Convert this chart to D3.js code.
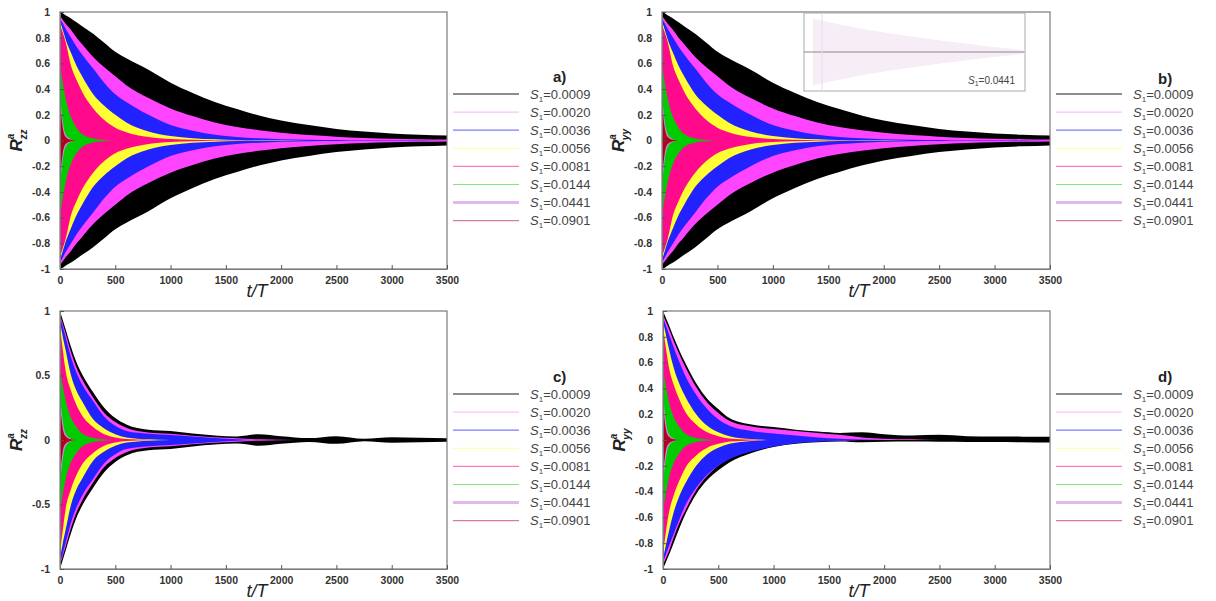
<!DOCTYPE html>
<html><head><meta charset="utf-8">
<script src="https://cdn.jsdelivr.net/npm/d3@7"></script>
<style>
body{margin:0;background:#fff;}
text{font-family:"Liberation Sans",Arial,sans-serif;}
</style>
</head><body>
<svg id="chart" width="1216" height="601"></svg>
<script>
// ---------- data ----------
const tGrid = [0,25,50,100,150,200,300,400,500,600,800,1000,1200,1400,1600,1800,2000,2250,2500,2750,3000,3250,3500];
const seriesS = ["0.0009","0.0020","0.0036","0.0056","0.0081","0.0144","0.0441","0.0901"];
const xTicks = [0,500,1000,1500,2000,2500,3000,3500];
const yTicksFine = [-1,-0.8,-0.6,-0.4,-0.2,0,0.2,0.4,0.6,0.8,1];
const yTicksCoarse = [-1,-0.5,0,0.5,1];

// panels a) and b): symmetric envelope amplitudes (band is +/- amp)
const ampAB = [
  [1.00,0.99,0.975,0.95,0.92,0.89,0.83,0.76,0.69,0.64,0.55,0.45,0.37,0.30,0.245,0.195,0.155,0.12,0.09,0.07,0.055,0.045,0.038],
  [0.97,0.94,0.91,0.86,0.80,0.75,0.65,0.57,0.50,0.43,0.33,0.25,0.19,0.14,0.105,0.08,0.06,0.042,0.03,0.02,0.014,0.01,0.007],
  [0.95,0.91,0.87,0.80,0.73,0.67,0.56,0.45,0.36,0.30,0.20,0.12,0.075,0.045,0.028,0.017,0.01,0.006,0.004,0.002,0.001,0.001,0],
  [0.93,0.86,0.79,0.68,0.58,0.50,0.36,0.27,0.20,0.14,0.07,0.035,0.018,0.009,0.004,0.002,0.001,0,0,0,0,0,0],
  [0.90,0.84,0.77,0.58,0.47,0.38,0.25,0.16,0.10,0.065,0.027,0.011,0.005,0.002,0.001,0,0,0,0,0,0,0,0],
  [0.60,0.45,0.33,0.18,0.10,0.05,0.015,0.004,0,0,0,0,0,0,0,0,0,0,0,0,0,0,0],
  [0.35,0.15,0.05,0.01,0,0,0,0,0,0,0,0,0,0,0,0,0,0,0,0,0,0,0],
  [0.30,0.10,0.03,0.005,0,0,0,0,0,0,0,0,0,0,0,0,0,0,0,0,0,0,0]
];
// panel c): symmetric envelope amplitudes
const ampC = [
  [1.00,0.93,0.86,0.72,0.60,0.51,0.37,0.25,0.17,0.12,0.08,0.07,0.05,0.035,0.028,0.045,0.03,0.015,0.03,0.01,0.022,0.018,0.014],
  [0.97,0.90,0.83,0.68,0.56,0.47,0.33,0.21,0.14,0.095,0.058,0.048,0.033,0.022,0.013,0.005,0.002,0,0,0,0,0,0],
  [0.95,0.88,0.80,0.64,0.52,0.43,0.30,0.18,0.11,0.07,0.048,0.038,0.027,0.016,0.006,0,0,0,0,0,0,0,0],
  [0.92,0.80,0.70,0.50,0.38,0.30,0.16,0.09,0.045,0.02,0.005,0,0,0,0,0,0,0,0,0,0,0,0],
  [0.88,0.70,0.54,0.38,0.27,0.19,0.10,0.045,0.02,0.008,0.002,0,0,0,0,0,0,0,0,0,0,0,0],
  [0.55,0.42,0.31,0.17,0.10,0.05,0.015,0.004,0,0,0,0,0,0,0,0,0,0,0,0,0,0,0],
  [0.35,0.15,0.05,0.01,0,0,0,0,0,0,0,0,0,0,0,0,0,0,0,0,0,0,0],
  [0.28,0.09,0.03,0.005,0,0,0,0,0,0,0,0,0,0,0,0,0,0,0,0,0,0,0]
];
// panel d): upper and lower envelopes
const upperD = [
  [1.00,0.95,0.90,0.79,0.69,0.60,0.44,0.32,0.24,0.17,0.12,0.10,0.08,0.065,0.055,0.06,0.045,0.035,0.04,0.03,0.028,0.026,0.025],
  [0.97,0.92,0.87,0.76,0.66,0.57,0.41,0.29,0.21,0.15,0.105,0.085,0.07,0.055,0.04,0.02,0.01,0.005,0,0,0,0,0],
  [0.95,0.89,0.83,0.71,0.60,0.50,0.35,0.24,0.16,0.11,0.07,0.05,0.035,0.02,0.01,0.004,0,0,0,0,0,0,0],
  [0.92,0.82,0.72,0.55,0.43,0.34,0.20,0.11,0.06,0.03,0.008,0,0,0,0,0,0,0,0,0,0,0,0],
  [0.88,0.72,0.58,0.42,0.31,0.22,0.12,0.06,0.03,0.012,0.003,0,0,0,0,0,0,0,0,0,0,0,0],
  [0.55,0.42,0.31,0.17,0.10,0.05,0.015,0.004,0,0,0,0,0,0,0,0,0,0,0,0,0,0,0],
  [0.35,0.15,0.05,0.01,0,0,0,0,0,0,0,0,0,0,0,0,0,0,0,0,0,0,0],
  [0.28,0.09,0.03,0.005,0,0,0,0,0,0,0,0,0,0,0,0,0,0,0,0,0,0,0]
];
const lowerD = [
  [-1.00,-0.95,-0.90,-0.79,-0.68,-0.58,-0.42,-0.31,-0.235,-0.175,-0.10,-0.055,-0.03,-0.018,-0.012,-0.018,-0.014,-0.012,-0.014,-0.015,-0.016,-0.018,-0.02],
  [-0.97,-0.92,-0.87,-0.75,-0.64,-0.55,-0.39,-0.28,-0.20,-0.145,-0.075,-0.04,-0.02,-0.01,-0.005,0,0,0,0,0,0,0,0],
  [-0.95,-0.89,-0.83,-0.72,-0.61,-0.51,-0.37,-0.27,-0.20,-0.15,-0.09,-0.05,-0.025,-0.012,-0.006,0,0,0,0,0,0,0,0],
  [-0.92,-0.82,-0.72,-0.55,-0.43,-0.34,-0.20,-0.11,-0.06,-0.03,-0.008,0,0,0,0,0,0,0,0,0,0,0,0],
  [-0.88,-0.72,-0.58,-0.42,-0.31,-0.22,-0.12,-0.06,-0.03,-0.012,-0.003,0,0,0,0,0,0,0,0,0,0,0,0],
  [-0.55,-0.42,-0.31,-0.17,-0.10,-0.05,-0.015,-0.004,0,0,0,0,0,0,0,0,0,0,0,0,0,0,0],
  [-0.35,-0.15,-0.05,-0.01,0,0,0,0,0,0,0,0,0,0,0,0,0,0,0,0,0,0,0],
  [-0.28,-0.09,-0.03,-0.005,0,0,0,0,0,0,0,0,0,0,0,0,0,0,0,0,0,0,0]
];
// inset of panel b): S1=0.0441 envelope
const insetT = [0,10,20,30,40,50,60,70,80,90,100];
const insetAmp = [0.9,0.78,0.66,0.56,0.47,0.39,0.31,0.24,0.17,0.11,0.05];

// ---------- styles ----------
const fillColors = ["#000000","#ff44ff","#2222ff","#ffff33","#ff0a8c","#00cc00","#cc88dd","#b0001e"];
const legendOpacity = [0.6,0.35,0.6,0.4,0.55,0.5,0.6,0.5];
const legendWidth = [1.3,1.2,1.2,1.2,1.2,1.2,3,1.2];

const svg = d3.select("#chart");
const neg = a => a.map(v => -v);

function drawPanel(p) {
  const x = d3.scaleLinear().domain([0,3500]).range([p.left,p.right]);
  const y = d3.scaleLinear().domain([-1,1]).range([p.bottom,p.top]);
  const g = svg.append("g");

  const area = d3.area()
    .x(d => x(d.t)).y0(d => y(d.lo)).y1(d => y(d.hi))
    .curve(d3.curveMonotoneX);

  p.upper.forEach((row,i) => {
    const pts = tGrid.map((t,k) => ({t, hi: row[k], lo: p.lower[i][k]}));
    g.append("path").attr("d", area(pts)).attr("fill", fillColors[i]).attr("stroke","none");
  });

  // frame
  g.append("rect").attr("x",p.left).attr("y",p.top)
    .attr("width",p.right-p.left).attr("height",p.bottom-p.top)
    .attr("fill","none").attr("stroke","#7a7a7a").attr("stroke-width",1.2);

  // axes
  const ax = g.append("g").attr("transform",`translate(0,${p.bottom})`)
    .call(d3.axisBottom(x).tickValues(xTicks).tickFormat(d=>String(d))
      .tickSizeInner(-4).tickSizeOuter(0).tickPadding(8));
  const ay = g.append("g").attr("transform",`translate(${p.left},0)`)
    .call(d3.axisLeft(y).tickValues(p.yTicks).tickFormat(d=>String(d))
      .tickSizeInner(-4).tickSizeOuter(0).tickPadding(10));
  [ax,ay].forEach(a => {
    a.select(".domain").attr("stroke","#7a7a7a");
    a.selectAll(".tick line").attr("stroke","#555");
    a.selectAll(".tick text").attr("font-size",10.5).attr("font-weight","bold")
      .attr("fill","#333").attr("font-family","Liberation Sans, Arial, sans-serif");
  });

  // x label
  g.append("text").attr("x",p.tLabelX).attr("y",p.bottom+28)
    .attr("text-anchor","middle").attr("font-size",18).attr("font-style","italic")
    .attr("fill","#222").text("t/T");

  // y label
  const yl = g.append("text").attr("transform",`translate(${p.left-38},${(p.top+p.bottom)/2}) rotate(-90)`)
    .attr("text-anchor","middle").attr("font-size",17).attr("font-style","italic")
    .attr("font-weight","bold").attr("fill","#222");
  yl.append("tspan").text("R");
  yl.append("tspan").attr("font-size",10).attr("dy",-8).text("a");
  yl.append("tspan").attr("font-size",10).attr("dx",-6).attr("dy",13).text(p.sub);

  // panel label
  g.append("text").attr("x",p.labX).attr("y",p.labY).attr("font-size",15)
    .attr("font-weight","bold").attr("fill","#222").text(p.label);

  // legend
  seriesS.forEach((s,i) => {
    const ly = p.legY + i*18.1;
    g.append("line").attr("x1",p.legX).attr("x2",p.legX+66).attr("y1",ly).attr("y2",ly)
      .attr("stroke",fillColors[i]).attr("stroke-opacity",legendOpacity[i])
      .attr("stroke-width",legendWidth[i]);
    const tx = g.append("text").attr("x",p.legX+77).attr("y",ly+4.5)
      .attr("font-size",13).attr("fill","#444");
    tx.append("tspan").attr("font-style","italic").text("S");
    tx.append("tspan").attr("font-size",8).attr("dy",3).text("1");
    tx.append("tspan").attr("dy",-3).text("=" + s);
  });
  return {x,y,g};
}

const panels = [
  {left:60,right:447,top:12,bottom:269,upper:ampAB,lower:ampAB.map(neg),yTicks:yTicksFine,sub:"zz",label:"a)",labX:553,labY:82,legX:453,legY:94,tLabelX:257},
  {left:662,right:1050,top:12,bottom:269,upper:ampAB,lower:ampAB.map(neg),yTicks:yTicksFine,sub:"yy",label:"b)",labX:1158,labY:84,legX:1056,legY:94,tLabelX:859},
  {left:60,right:447,top:311,bottom:569,upper:ampC,lower:ampC.map(neg),yTicks:yTicksCoarse,sub:"zz",label:"c)",labX:553,labY:382,legX:453,legY:394,tLabelX:257},
  {left:663,right:1050,top:311,bottom:569,upper:upperD,lower:lowerD,yTicks:yTicksFine,sub:"yy",label:"d)",labX:1158,labY:382,legX:1056,legY:394,tLabelX:859}
];
panels.forEach(drawPanel);

// inset in panel b)
(function(){
  const L=804,R=1025,T=13,B=91;
  const xi = d3.scaleLinear().domain([0,100]).range([813,R]);
  const yi = d3.scaleLinear().domain([-1,1]).range([B-2,T+2]);
  const g = svg.append("g");
  g.append("rect").attr("x",L).attr("y",T).attr("width",R-L).attr("height",B-T)
    .attr("fill","#fff").attr("stroke","#aaa").attr("stroke-width",1);
  const area = d3.area().x((d,i)=>xi(insetT[i])).y0(d=>yi(-d)).y1(d=>yi(d)).curve(d3.curveMonotoneX);
  g.append("path").attr("d",area(insetAmp)).attr("fill","#f6edf6");
  g.append("line").attr("x1",L).attr("x2",R).attr("y1",yi(0)).attr("y2",yi(0)).attr("stroke","#888").attr("stroke-width",1);
  g.append("line").attr("x1",822).attr("x2",822).attr("y1",T).attr("y2",B).attr("stroke","#ecd8ec").attr("stroke-width",1);
  const tx = g.append("text").attr("x",1015).attr("y",84).attr("text-anchor","end")
    .attr("font-size",10).attr("fill","#444");
  tx.append("tspan").attr("font-style","italic").text("S");
  tx.append("tspan").attr("font-size",7).attr("dy",2).text("1");
  tx.append("tspan").attr("dy",-2).text("=0.0441");
})();
</script>
</body></html>
